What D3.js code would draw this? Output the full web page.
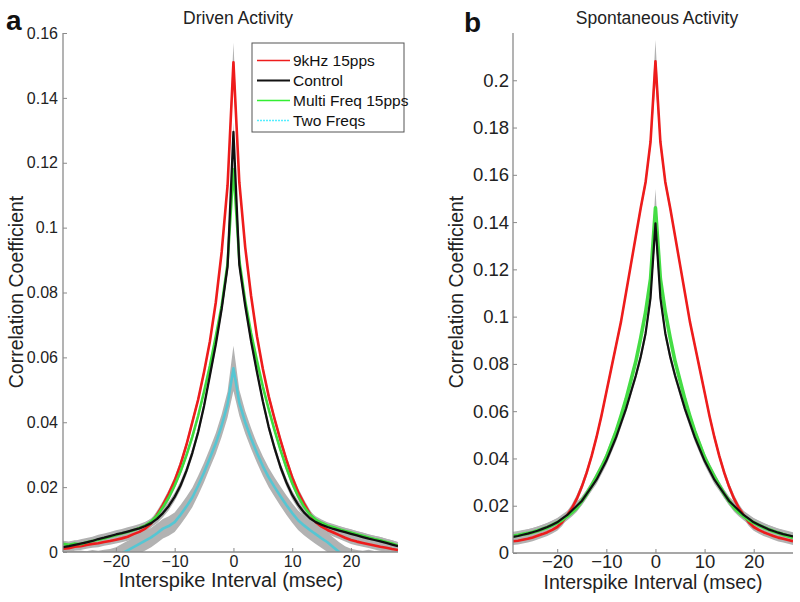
<!DOCTYPE html>
<html><head><meta charset="utf-8">
<script src="https://cdnjs.cloudflare.com/ajax/libs/d3/7.8.5/d3.min.js"></script>
<style>body{margin:0;background:#fff}svg{display:block}text{font-family:Arial,"Liberation Sans",sans-serif}</style>
</head><body><svg id="c" width="800" height="602"></svg>
<script>
// ---------- shared lag axis (msec) ----------
const lags = [-29,-28,-27,-26,-25,-24,-23,-22,-21,-20,-19,-18,-17,-16,-15,-14,-13,-12,-11,-10,-9,-8,-7,-6,-5,-4,-3,-2,-1,0,1,2,3,4,5,6,7,8,9,10,11,12,13,14,15,16,17,18,19,20,21,22,23,24,25,26,27,28];
const xTicks = [-20,-10,0,10,20];
const yTicksA = [0,0.02,0.04,0.06,0.08,0.1,0.12,0.14,0.16];
const yTicksB = [0,0.02,0.04,0.06,0.08,0.1,0.12,0.14,0.16,0.18,0.2];
const seriesNames = ["9kHz 15pps","Control","Multi Freq 15pps","Two Freqs"];

// ---------- panel a : Driven Activity ----------
const drivenRed = [0.0010,0.0012,0.0016,0.0018,0.0022,0.0025,0.0027,0.0031,0.0034,0.0038,0.0042,0.0047,0.0055,0.0062,0.0072,0.0088,0.0115,0.0145,0.0180,0.0220,0.0270,0.0330,0.0400,0.0470,0.0555,0.0650,0.0770,0.0925,0.1130,0.1510,0.1140,0.0940,0.0790,0.0665,0.0565,0.0480,0.0410,0.0345,0.0285,0.0230,0.0185,0.0150,0.0118,0.0092,0.0078,0.0068,0.0060,0.0052,0.0044,0.0037,0.0032,0.0028,0.0024,0.0020,0.0016,0.0013,0.0009,0.0006];
const drivenBlack = [0.0015,0.0018,0.0022,0.0026,0.0030,0.0034,0.0040,0.0044,0.0049,0.0054,0.0058,0.0063,0.0068,0.0073,0.0080,0.0089,0.0102,0.0120,0.0142,0.0170,0.0205,0.0250,0.0305,0.0370,0.0450,0.0545,0.0640,0.0750,0.0880,0.1295,0.0885,0.0760,0.0650,0.0555,0.0465,0.0385,0.0320,0.0262,0.0215,0.0176,0.0146,0.0122,0.0104,0.0092,0.0084,0.0077,0.0071,0.0066,0.0061,0.0056,0.0051,0.0046,0.0041,0.0037,0.0033,0.0028,0.0023,0.0018];
const drivenGreen = [0.0025,0.0022,0.0026,0.0024,0.0030,0.0034,0.0038,0.0042,0.0047,0.0052,0.0057,0.0062,0.0067,0.0074,0.0082,0.0094,0.0112,0.0138,0.0168,0.0205,0.0248,0.0298,0.0355,0.0420,0.0495,0.0575,0.0665,0.0760,0.0890,0.1180,0.0900,0.0775,0.0675,0.0590,0.0510,0.0440,0.0375,0.0315,0.0260,0.0212,0.0172,0.0140,0.0116,0.0100,0.0090,0.0082,0.0076,0.0070,0.0065,0.0060,0.0055,0.0050,0.0045,0.0040,0.0036,0.0031,0.0026,0.0020];
const drivenCyan = [-0.0026,-0.0024,-0.0027,-0.0025,-0.0028,-0.0024,-0.0026,-0.0023,-0.0021,-0.0015,-0.0005,0.0005,0.0015,0.0025,0.0035,0.0045,0.0058,0.0072,0.0080,0.0092,0.0115,0.0140,0.0168,0.0205,0.0245,0.0290,0.0335,0.0390,0.0455,0.0566,0.0460,0.0400,0.0350,0.0305,0.0265,0.0230,0.0200,0.0172,0.0145,0.0120,0.0098,0.0082,0.0068,0.0055,0.0042,0.0030,0.0015,0.0000,-0.0012,-0.0020,-0.0024,-0.0026,-0.0023,-0.0027,-0.0025,-0.0028,-0.0026,-0.0029];
// standard errors (grey bands)
const semRedA   = [0.0012,0.0012,0.0012,0.0012,0.0012,0.0012,0.0012,0.0012,0.0012,0.0012,0.0012,0.0012,0.0012,0.0012,0.0012,0.0012,0.0012,0.0012,0.0012,0.0012,0.0012,0.0012,0.0012,0.0012,0.0012,0.0012,0.0013,0.0015,0.0020,0.0060,0.0020,0.0015,0.0013,0.0012,0.0012,0.0012,0.0012,0.0012,0.0012,0.0012,0.0012,0.0012,0.0012,0.0012,0.0012,0.0012,0.0012,0.0012,0.0012,0.0012,0.0012,0.0012,0.0012,0.0012,0.0012,0.0012,0.0012,0.0012];
const semBlackA = [0.0013,0.0013,0.0013,0.0013,0.0013,0.0013,0.0013,0.0013,0.0013,0.0013,0.0013,0.0013,0.0013,0.0013,0.0013,0.0013,0.0013,0.0013,0.0013,0.0013,0.0013,0.0013,0.0013,0.0013,0.0013,0.0013,0.0014,0.0016,0.0020,0.0030,0.0020,0.0016,0.0014,0.0013,0.0013,0.0013,0.0013,0.0013,0.0013,0.0013,0.0013,0.0013,0.0013,0.0013,0.0013,0.0013,0.0013,0.0013,0.0013,0.0013,0.0013,0.0013,0.0013,0.0013,0.0013,0.0013,0.0013,0.0013];
const semGreenA = [0.0010,0.0010,0.0010,0.0010,0.0010,0.0010,0.0010,0.0010,0.0010,0.0010,0.0010,0.0010,0.0010,0.0010,0.0010,0.0010,0.0010,0.0010,0.0010,0.0010,0.0010,0.0010,0.0010,0.0010,0.0010,0.0010,0.0011,0.0012,0.0015,0.0020,0.0015,0.0012,0.0011,0.0010,0.0010,0.0010,0.0010,0.0010,0.0010,0.0010,0.0010,0.0010,0.0010,0.0010,0.0010,0.0010,0.0010,0.0010,0.0010,0.0010,0.0010,0.0010,0.0010,0.0010,0.0010,0.0010,0.0010,0.0010];
const semCyanA  = [0.0030,0.0030,0.0030,0.0030,0.0030,0.0030,0.0030,0.0030,0.0030,0.0030,0.0030,0.0030,0.0030,0.0030,0.0030,0.0030,0.0030,0.0030,0.0030,0.0030,0.0030,0.0030,0.0030,0.0030,0.0030,0.0030,0.0032,0.0035,0.0040,0.0070,0.0040,0.0035,0.0032,0.0030,0.0030,0.0030,0.0030,0.0030,0.0030,0.0030,0.0030,0.0030,0.0030,0.0030,0.0030,0.0030,0.0030,0.0030,0.0030,0.0030,0.0030,0.0030,0.0030,0.0030,0.0030,0.0030,0.0030,0.0030];

// ---------- panel b : Spontaneous Activity ----------
const spontRed = [0.0050,0.0052,0.0056,0.0060,0.0066,0.0073,0.0080,0.0088,0.0098,0.0110,0.0130,0.0160,0.0190,0.0230,0.0280,0.0340,0.0410,0.0490,0.0580,0.0680,0.0780,0.0880,0.0980,0.1100,0.1220,0.1340,0.1460,0.1570,0.1740,0.2080,0.1740,0.1570,0.1460,0.1340,0.1220,0.1100,0.0980,0.0880,0.0780,0.0680,0.0580,0.0490,0.0410,0.0340,0.0280,0.0230,0.0190,0.0160,0.0130,0.0110,0.0098,0.0088,0.0080,0.0072,0.0065,0.0060,0.0055,0.0050];
const spontBlack = [0.0068,0.0072,0.0077,0.0082,0.0088,0.0094,0.0102,0.0110,0.0120,0.0130,0.0145,0.0160,0.0180,0.0200,0.0220,0.0250,0.0280,0.0310,0.0350,0.0390,0.0440,0.0490,0.0550,0.0610,0.0680,0.0750,0.0830,0.0930,0.1080,0.1395,0.1080,0.0930,0.0830,0.0750,0.0680,0.0610,0.0550,0.0490,0.0440,0.0390,0.0350,0.0310,0.0280,0.0250,0.0220,0.0200,0.0180,0.0160,0.0145,0.0130,0.0120,0.0110,0.0100,0.0093,0.0086,0.0080,0.0075,0.0070];
const spontGreen = [0.0072,0.0075,0.0079,0.0083,0.0088,0.0094,0.0101,0.0108,0.0118,0.0128,0.0140,0.0155,0.0172,0.0192,0.0220,0.0250,0.0285,0.0322,0.0362,0.0405,0.0460,0.0515,0.0580,0.0650,0.0730,0.0810,0.0910,0.1020,0.1160,0.1460,0.1160,0.1020,0.0910,0.0810,0.0730,0.0650,0.0580,0.0515,0.0460,0.0405,0.0362,0.0322,0.0285,0.0250,0.0220,0.0192,0.0172,0.0155,0.0140,0.0128,0.0118,0.0108,0.0100,0.0092,0.0085,0.0078,0.0072,0.0066];
const semRedB   = [0.0016,0.0016,0.0016,0.0016,0.0016,0.0016,0.0016,0.0016,0.0016,0.0016,0.0016,0.0016,0.0016,0.0016,0.0016,0.0016,0.0016,0.0016,0.0016,0.0016,0.0016,0.0016,0.0016,0.0016,0.0016,0.0016,0.0018,0.0022,0.0030,0.0090,0.0030,0.0022,0.0018,0.0016,0.0016,0.0016,0.0016,0.0016,0.0016,0.0016,0.0016,0.0016,0.0016,0.0016,0.0016,0.0016,0.0016,0.0016,0.0016,0.0016,0.0016,0.0016,0.0016,0.0016,0.0016,0.0016,0.0016,0.0016];
const semBlackB = [0.0018,0.0018,0.0018,0.0018,0.0018,0.0018,0.0018,0.0018,0.0018,0.0018,0.0018,0.0018,0.0018,0.0018,0.0018,0.0018,0.0018,0.0018,0.0018,0.0018,0.0018,0.0018,0.0018,0.0018,0.0018,0.0018,0.0020,0.0024,0.0030,0.0050,0.0030,0.0024,0.0020,0.0018,0.0018,0.0018,0.0018,0.0018,0.0018,0.0018,0.0018,0.0018,0.0018,0.0018,0.0018,0.0018,0.0018,0.0018,0.0018,0.0018,0.0018,0.0018,0.0018,0.0018,0.0018,0.0018,0.0018,0.0018];
const semGreenB = [0.0018,0.0018,0.0018,0.0018,0.0018,0.0018,0.0018,0.0018,0.0018,0.0018,0.0018,0.0018,0.0018,0.0018,0.0018,0.0018,0.0018,0.0018,0.0018,0.0018,0.0018,0.0018,0.0018,0.0018,0.0018,0.0018,0.0020,0.0024,0.0032,0.0080,0.0032,0.0024,0.0020,0.0018,0.0018,0.0018,0.0018,0.0018,0.0018,0.0018,0.0018,0.0018,0.0018,0.0018,0.0018,0.0018,0.0018,0.0018,0.0018,0.0018,0.0018,0.0018,0.0018,0.0018,0.0018,0.0018,0.0018,0.0018];

// ---------- drawing ----------
const svg = d3.select("#c");
const FONT = 'Arial,"Liberation Sans",sans-serif';
const axisGrey = "#8a8a8a", bandGrey = "#b2b2b2";

function panel(cfg){
  const x = d3.scaleLinear().domain([-29,28]).range([cfg.x0,cfg.x1]);
  const y = d3.scaleLinear().domain([0,cfg.ymax]).range([cfg.yb,cfg.yt]);
  const g = svg.append("g");
  const cid = "clip"+cfg.id;
  svg.append("defs").append("clipPath").attr("id",cid).append("rect")
    .attr("x",cfg.x0).attr("y",cfg.yt-30).attr("width",cfg.x1-cfg.x0).attr("height",cfg.yb-cfg.yt+30);
  const plot = g.append("g").attr("clip-path",`url(#${cid})`);
  const pts = (vals,sem)=>lags.map((l,i)=>({l,v:vals[i],e:sem[i]}));
  const area = d3.area().x(d=>x(d.l)).y0(d=>y(d.v-d.e)).y1(d=>y(d.v+d.e));
  const line = d3.line().x(d=>x(d.l)).y(d=>y(d.v));
  cfg.series.forEach(s=>{
    plot.append("path").datum(pts(s.vals,s.sem)).attr("d",area).attr("fill",bandGrey).attr("stroke","none");
  });
  cfg.series.forEach(s=>{
    plot.append("path").datum(pts(s.vals,s.sem)).attr("d",line).attr("fill","none")
      .attr("stroke",s.color).attr("stroke-width",s.w).attr("stroke-linejoin","round");
  });
  // axes
  const ax = g.append("g").attr("transform",`translate(0,${cfg.yb})`)
    .call(d3.axisBottom(x).tickValues(xTicks).tickSizeInner(-4).tickSizeOuter(0).tickPadding(cfg.xpad).tickFormat(d3.format("d")));
  const ay = g.append("g").attr("transform",`translate(${cfg.x0},0)`)
    .call(d3.axisLeft(y).tickValues(cfg.yticks).tickSizeInner(-4).tickSizeOuter(0).tickPadding(cfg.ypad).tickFormat(d3.format("~g")));
  [ax,ay].forEach(a=>{
    a.select(".domain").attr("stroke",axisGrey).attr("stroke-width",1.3);
    a.selectAll(".tick line").attr("stroke",axisGrey);
    a.selectAll(".tick text").attr("fill","#222").style("font-family",FONT).style("font-size",cfg.tickFont+"px");
  });
  ay.select(".domain").attr("d",`M0,${cfg.yb}V${cfg.yt}`);
  ax.select(".domain").attr("d",`M${cfg.x0},0H${cfg.x1}`);
  // labels
  g.append("text").attr("x",cfg.titleX).attr("y",24).attr("text-anchor","middle")
    .style("font-size","17.5px").attr("fill","#222").text(cfg.title);
  g.append("text").attr("x",cfg.xlabX).attr("y",cfg.xlabY).attr("text-anchor","middle")
    .style("font-size",cfg.xlabFont+"px").attr("fill","#222").text("Interspike Interval (msec)");
  g.append("text").attr("transform",`translate(${cfg.ylabX},292) rotate(-90)`).attr("text-anchor","middle")
    .style("font-size","19.5px").attr("fill","#222").text("Correlation Coefficient");
  g.append("text").attr("x",cfg.letterX).attr("y",cfg.letterY).style("font-size","28px").style("font-weight","bold")
    .attr("fill","#111").text(cfg.letter);
  return {x,y,g};
}

panel({id:"a",x0:63,x1:398,yb:552,yt:33,ymax:0.16,yticks:yTicksA,tickFont:16,xpad:4,ypad:5,
  title:"Driven Activity",titleX:238,xlabX:231,xlabY:587,xlabFont:20,ylabX:23,letter:"a",letterX:6,letterY:30,
  series:[
    {vals:drivenRed,sem:semRedA,color:"#ee1c1c",w:2.6},
    {vals:drivenGreen,sem:semGreenA,color:"#3ddc3d",w:2.6},
    {vals:drivenBlack,sem:semBlackA,color:"#111111",w:2.3},
    {vals:drivenCyan,sem:semCyanA,color:"#55c6d3",w:2.6}
  ]});

panel({id:"b",x0:513,x1:793,yb:553,yt:33,ymax:0.22,yticks:yTicksB,tickFont:18.5,xpad:2,ypad:4,
  title:"Spontaneous Activity",titleX:657,xlabX:653,xlabY:589,xlabFont:19.5,ylabX:463,letter:"b",letterX:464,letterY:32,
  series:[
    {vals:spontRed,sem:semRedB,color:"#ee1c1c",w:2.6},
    {vals:spontGreen,sem:semGreenB,color:"#44dd44",w:3.6},
    {vals:spontBlack,sem:semBlackB,color:"#111111",w:2.2}
  ]});

// ---------- legend ----------
const legColors = ["#ee1c1c","#111111","#33ee33","#55eeff"];
const leg = svg.append("g");
leg.append("rect").attr("x",252).attr("y",43).attr("width",152).attr("height",89)
  .attr("fill","#fff").attr("stroke","#555").attr("stroke-width",1);
seriesNames.forEach((n,i)=>{
  const yy = 60.5 + i*20;
  leg.append("line").attr("x1",257).attr("x2",290).attr("y1",yy).attr("y2",yy)
    .attr("stroke",legColors[i]).attr("stroke-width",i===1?2:1.5)
    .attr("stroke-dasharray",i===3?"2,1":null);
  leg.append("text").attr("x",293).attr("y",yy+5.5).style("font-size","15.5px").attr("fill","#111").text(n);
});
</script></body></html>
